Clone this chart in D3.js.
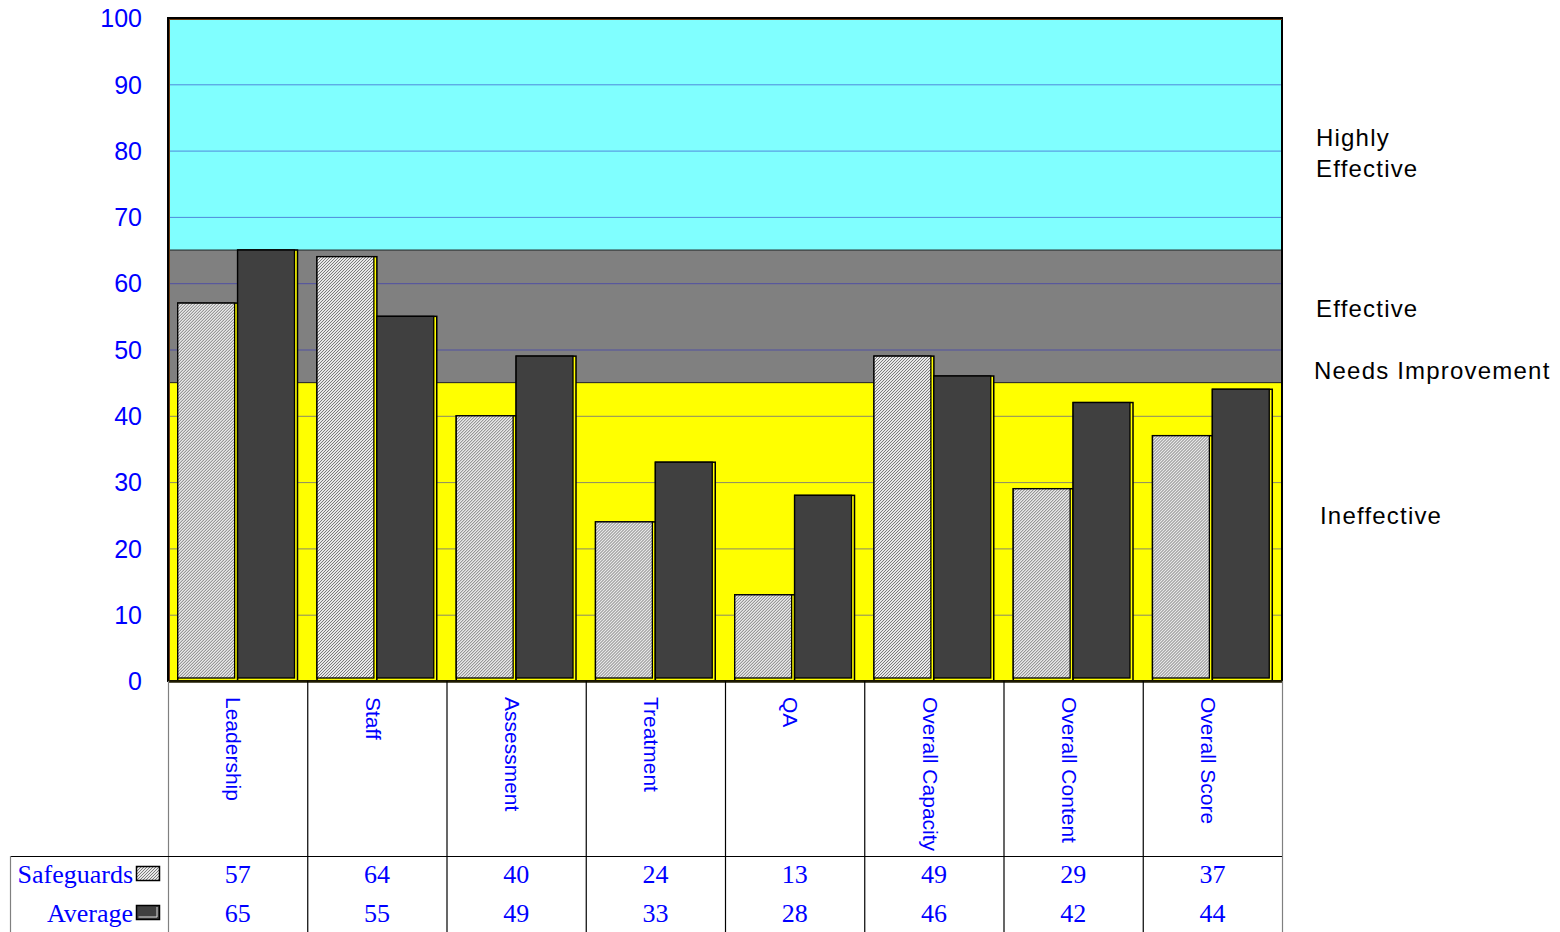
<!DOCTYPE html>
<html>
<head>
<meta charset="utf-8">
<script src="https://cdn.jsdelivr.net/npm/d3@7"></script>
<style>
  html, body { margin: 0; padding: 0; background: #ffffff; }
  svg { display: block; }
</style>
</head>
<body>
<svg id="chart" width="1560" height="932"></svg>
<script>
// ---- data ----
const categories = ["Leadership", "Staff", "Assessment", "Treatment", "QA", "Overall Capacity", "Overall Content", "Overall Score"];
const seriesNames = ["Safeguards", "Average"];
const safeguards = [57, 64, 40, 24, 13, 49, 29, 37];
const average = [65, 55, 49, 33, 28, 46, 42, 44];
const yTicks = [0, 10, 20, 30, 40, 50, 60, 70, 80, 90, 100];
const bandLimits = [0, 45, 65, 100];
const bandNames = ["Ineffective", "Needs Improvement", "Effective", "Highly Effective"];

// ---- layout ----
const svg = d3.select("#chart");
const L = 168, R = 1282, T = 18, B = 681;
const tableMid = 856, tableBottom = 932, tableLeft = 10;

const y = d3.scaleLinear().domain([0, 100]).range([B, T]);
const x0 = d3.scaleBand().domain(categories).range([L, R]).paddingInner(0.14).paddingOuter(0.07);
const x1 = d3.scaleBand().domain(seriesNames).range([0, x0.bandwidth()]);
const cell = d3.scaleBand().domain(categories).range([L, R]);

// pattern
const defs = svg.append("defs");
const pat = defs.append("pattern").attr("id", "hatch").attr("patternUnits", "userSpaceOnUse")
  .attr("width", 3).attr("height", 3);
pat.append("rect").attr("width", 3).attr("height", 3).attr("fill", "#e8e8e8");
pat.append("path").attr("d", "M-1,1 L1,-1 M0,3 L3,0 M2,4 L4,2")
  .attr("stroke", "#606060").attr("stroke-width", 0.8);

const fills = { "Safeguards": "url(#hatch)", "Average": "#404040" };

// background bands
const bandColors = ["#ffff00", "#808080", "#80ffff"];
svg.append("g").selectAll("rect").data(d3.range(3)).join("rect")
  .attr("x", L).attr("width", R - L)
  .attr("y", i => y(bandLimits[i + 1]))
  .attr("height", i => y(bandLimits[i]) - y(bandLimits[i + 1]))
  .attr("fill", i => bandColors[i]);

// gridlines
svg.append("g").selectAll("line").data(yTicks.filter(t => t > 0 && t < 100)).join("line")
  .attr("x1", L).attr("x2", R)
  .attr("y1", d => y(d) + 0.5).attr("y2", d => y(d) + 0.5)
  .attr("stroke", "#2828c0").attr("stroke-opacity", 0.55).attr("stroke-width", 1);

// band boundary lines
svg.append("g").selectAll("line").data([45, 65]).join("line")
  .attr("x1", L).attr("x2", R)
  .attr("y1", d => y(d)).attr("y2", d => y(d))
  .attr("stroke", "#202020").attr("stroke-width", 1);

// bars
const rows = categories.map((c, i) => ({ cat: c, vals: [
  { name: "Safeguards", v: safeguards[i] },
  { name: "Average", v: average[i] }
]}));
const groups = svg.append("g").selectAll("g").data(rows).join("g")
  .attr("transform", d => `translate(${x0(d.cat)},0)`);
const bar = groups.selectAll("g").data(d => d.vals).join("g");
bar.append("rect")
  .attr("x", d => x1(d.name)).attr("width", x1.bandwidth())
  .attr("y", d => y(d.v)).attr("height", d => y(0) - y(d.v))
  .attr("fill", "#ffff00").attr("stroke", "#000").attr("stroke-width", 1.5);
bar.append("rect")
  .attr("x", d => x1(d.name)).attr("width", x1.bandwidth() - 3)
  .attr("y", d => y(d.v)).attr("height", d => y(0) - y(d.v) - 3)
  .attr("fill", d => fills[d.name]).attr("stroke", "#000").attr("stroke-width", 1.3);

// frame
svg.append("rect").attr("x", L).attr("y", T).attr("width", R - L).attr("height", B - T)
  .attr("fill", "none").attr("stroke", "#000").attr("stroke-width", 2);
svg.append("line").attr("x1", L + 1.5).attr("x2", L + 1.5).attr("y1", T + 1).attr("y2", B)
  .attr("stroke", "#6b3a10").attr("stroke-width", 1);
svg.append("line").attr("x1", L + 1).attr("x2", R).attr("y1", T + 1.5).attr("y2", T + 1.5)
  .attr("stroke", "#6b3a10").attr("stroke-width", 1);
svg.append("line").attr("x1", L).attr("x2", R + 1).attr("y1", B + 0.5).attr("y2", B + 0.5)
  .attr("stroke", "#1e1a00").attr("stroke-width", 2.5);

// y axis labels
const yAxis = d3.axisLeft(y).tickValues(yTicks).tickSize(0).tickPadding(0);
const ga = svg.append("g").attr("transform", `translate(142,0)`).call(yAxis);
ga.select(".domain").remove();
ga.selectAll("text").attr("fill", "#0000ff")
  .style("font-family", "Liberation Sans, Arial, sans-serif").style("font-size", "25px")
  .attr("dy", "0.35em");

// band labels on right
const labelFont = "Liberation Sans, Arial, sans-serif";
const bandLabel = [
  { lines: ["Highly", "Effective"], v: 79.6, x: 1316 },
  { lines: ["Effective"], v: 56.2, x: 1316 },
  { lines: ["Needs Improvement"], v: 46.8, x: 1314 },
  { lines: ["Ineffective"], v: 25, x: 1320 }
];
bandLabel.forEach(b => {
  const t = svg.append("text").attr("x", b.x).attr("y", y(b.v))
    .attr("fill", "#000").style("font-family", labelFont).style("font-size", "24px")
    .style("letter-spacing", "1.2px");
  const n = b.lines.length;
  b.lines.forEach((ln, k) => {
    t.append("tspan").attr("x", b.x)
      .attr("dy", k === 0 ? `${0.35 - (n - 1) * 0.65}em` : "1.3em").text(ln);
  });
});

// ---- data table ----
const tg = svg.append("g");
const bounds = categories.map(c => cell(c)).concat([R]);
tg.selectAll("line.v").data(bounds).join("line").attr("class", "v")
  .attr("x1", d => d + 0.5).attr("x2", d => d + 0.5)
  .attr("y1", B).attr("y2", tableBottom)
  .attr("stroke", (d, i) => (i === 0 || i === bounds.length - 1) ? "#808080" : "#000")
  .attr("stroke-width", 1.2);
tg.append("line").attr("x1", tableLeft).attr("x2", R).attr("y1", tableMid + 0.5).attr("y2", tableMid + 0.5)
  .attr("stroke", "#000").attr("stroke-width", 1.2);
tg.append("line").attr("x1", tableLeft + 0.5).attr("x2", tableLeft + 0.5).attr("y1", tableMid).attr("y2", tableBottom)
  .attr("stroke", "#808080").attr("stroke-width", 1.2);

// category labels rotated
tg.selectAll("text.cat").data(categories).join("text").attr("class", "cat")
  .attr("transform", d => `translate(${cell(d) + cell.bandwidth() / 2 - 4},${B + 16}) rotate(90)`)
  .attr("text-anchor", "start").attr("dy", "0.35em")
  .attr("fill", "#0000ff").style("font-family", labelFont).style("font-size", "21px")
  .text(d => d);

// legend + values rows
const serif = "Liberation Serif, 'Times New Roman', serif";
const rowY = { "Safeguards": 883, "Average": 922 };
const rowData = { "Safeguards": safeguards, "Average": average };
seriesNames.forEach(name => {
  tg.append("text").attr("x", 133).attr("y", rowY[name]).attr("text-anchor", "end")
    .attr("fill", "#0000ff").style("font-family", serif).style("font-size", "26px")
    .text(name);
  tg.append("rect").attr("x", 136.5).attr("y", rowY[name] - 16.5).attr("width", 23).attr("height", 14)
    .attr("fill", fills[name]).attr("stroke", "#000").attr("stroke-width", 1.5);
  if (name === "Average") {
    tg.append("path").attr("d", `M${138.5},${rowY[name] - 5} L${157},${rowY[name] - 5} L${157},${rowY[name] - 15}`)
      .attr("fill", "none").attr("stroke", "#ddd").attr("stroke-width", 1);
  }
  tg.selectAll(null).data(categories).join("text")
    .attr("x", d => cell(d) + cell.bandwidth() / 2)
    .attr("y", rowY[name]).attr("text-anchor", "middle")
    .attr("fill", "#0000ff").style("font-family", serif).style("font-size", "26px")
    .text((d, i) => rowData[name][i]);
});
</script>
</body>
</html>
